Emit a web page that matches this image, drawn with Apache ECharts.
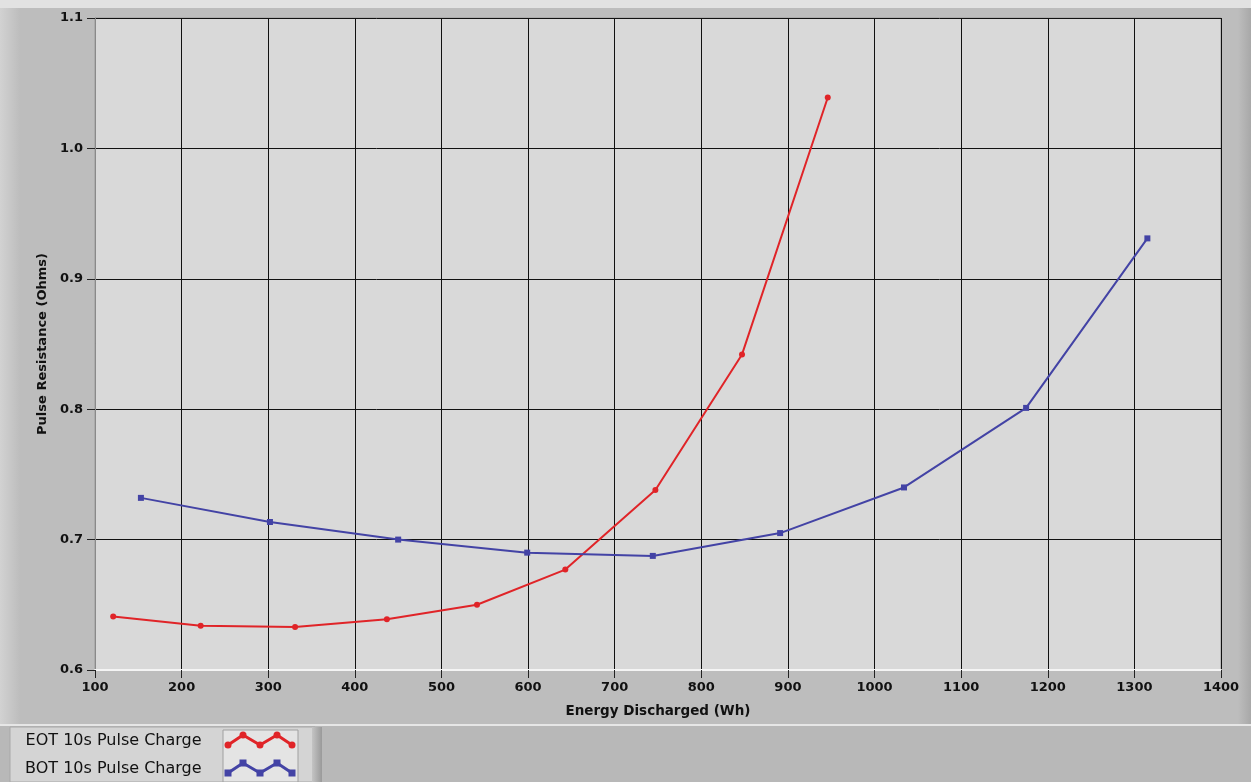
<!DOCTYPE html>
<html>
<head>
<meta charset="utf-8">
<script src="https://cdn.jsdelivr.net/npm/echarts@6/dist/echarts.min.js"></script>
<style>
  html, body { margin: 0; padding: 0; background: #bdbdbd; }
  #chart { width: 1251px; height: 782px; }
</style>
</head>
<body>
<div id="chart"></div>
<script>
// Pulse resistance vs. energy discharged, two 10 s pulse-charge tests
const eotEnergy = [121, 222, 331, 437, 541, 643, 747, 847, 946];
const eotResist = [0.641, 0.634, 0.633, 0.639, 0.650, 0.677, 0.738, 0.842, 1.039];
const botEnergy = [153, 302, 450, 599, 744, 891, 1034, 1175, 1315];
const botResist = [0.732, 0.7135, 0.700, 0.690, 0.6875, 0.705, 0.740, 0.801, 0.931];
const seriesNames = ['EOT 10s Pulse Charge', 'BOT 10s Pulse Charge'];
const seriesColors = ['#e02428', '#4343a5'];
const xTicks = { min: 100, max: 1400, step: 100 };
const yTicks = { min: 0.6, max: 1.1, step: 0.1 };

const pairs = (xs, ys) => xs.map((x, i) => [x, ys[i]]);

const chart = echarts.init(document.getElementById('chart'));

// zig-zag sample drawn inside the legend's swatch box
function swatch(top, color, symbol) {
  const pts = [[228, top + 10], [243, top], [260, top + 10], [277, top], [292, top + 10]];
  const parts = [{
    type: 'polyline', z: 20,
    shape: { points: pts },
    style: { stroke: color, lineWidth: 3, fill: null, lineJoin: 'round' }
  }];
  pts.forEach(p => {
    parts.push(symbol === 'circle'
      ? { type: 'circle', z: 21, shape: { cx: p[0], cy: p[1], r: 3.5 }, style: { fill: color } }
      : { type: 'rect', z: 21, shape: { x: p[0] - 3.5, y: p[1] - 3.5, width: 7, height: 7 }, style: { fill: color } });
  });
  return parts;
}

chart.setOption({
  backgroundColor: '#bdbdbd',
  animation: false,
  graphic: [
    { type: 'rect', z: -10, shape: { x: 0, y: 0, width: 1251, height: 8 }, style: { fill: '#e2e2e2' } },
    { type: 'rect', z: -10, shape: { x: 0, y: 8, width: 20, height: 717 },
      style: { fill: new echarts.graphic.LinearGradient(0, 0, 1, 0, [
        { offset: 0, color: '#d2d2d2' }, { offset: 1, color: '#bdbdbd' }]) } },
    { type: 'rect', z: -10, shape: { x: 1238, y: 8, width: 13, height: 717 },
      style: { fill: new echarts.graphic.LinearGradient(0, 0, 1, 0, [
        { offset: 0, color: '#bdbdbd' }, { offset: 1, color: '#a8a8a8' }]) } },
    { type: 'rect', z: -10, shape: { x: 0, y: 724, width: 1251, height: 58 }, style: { fill: '#b8b8b8' } },
    { type: 'line', z: -9, shape: { x1: 0, y1: 725, x2: 1251, y2: 725 }, style: { stroke: '#e6e6e6', lineWidth: 2 } },
    { type: 'rect', z: -8, shape: { x: 10, y: 727, width: 305, height: 55 },
      style: { fill: '#d4d4d4', stroke: '#a8a8a8', lineWidth: 1 } },
    { type: 'rect', z: -7, shape: { x: 223, y: 730, width: 75, height: 52 },
      style: { fill: '#e4e4e4', stroke: '#a0a0a0', lineWidth: 1 } },
    { type: 'rect', z: -8, shape: { x: 312, y: 727, width: 10, height: 55 },
      style: { fill: new echarts.graphic.LinearGradient(0, 0, 1, 0, [
        { offset: 0, color: '#c4c4c4' }, { offset: 1, color: '#9a9a9a' }]) } },
    ...swatch(735, seriesColors[0], 'circle'),
    ...swatch(763, seriesColors[1], 'rect')
  ],
  grid: {
    left: 95, right: 30, top: 18, bottom: 112,
    show: true, backgroundColor: '#d9d9d9', borderColor: '#9a9a9a', borderWidth: 1
  },
  legend: {
    data: seriesNames,
    orient: 'vertical',
    left: 25, top: 732,
    padding: 0,
    align: 'right',
    itemGap: 10,
    itemWidth: 75, itemHeight: 18,
    icon: 'rect',
    itemStyle: { opacity: 0 },
    lineStyle: { opacity: 0 },
    textStyle: { fontFamily: 'DejaVu Sans', fontSize: 16, color: '#111', width: 193 },
    selectedMode: false
  },
  xAxis: {
    type: 'value',
    min: xTicks.min, max: xTicks.max, interval: xTicks.step,
    name: 'Energy Discharged (Wh)',
    nameLocation: 'middle', nameGap: 34,
    nameTextStyle: { fontFamily: 'DejaVu Sans', fontWeight: 'bold', fontSize: 13.5, color: '#111' },
    axisLine: { show: true, lineStyle: { color: '#f4f4f4', width: 2 } },
    axisTick: { show: true, length: 8, inside: false, lineStyle: { color: '#222' } },
    axisLabel: { fontFamily: 'DejaVu Sans', fontWeight: 'bold', fontSize: 13, color: '#111', margin: 11,
      formatter: v => String(v) },
    splitLine: { show: true, lineStyle: { color: '#111', width: 1 } }
  },
  yAxis: {
    type: 'value',
    min: yTicks.min, max: yTicks.max, interval: yTicks.step,
    name: 'Pulse Resistance (Ohms)',
    nameLocation: 'middle', nameGap: 44,
    nameTextStyle: { fontFamily: 'DejaVu Sans', fontWeight: 'bold', fontSize: 13, color: '#111' },
    axisLine: { show: true, lineStyle: { color: '#8a8a8a', width: 1 } },
    axisTick: { show: true, length: 8, lineStyle: { color: '#222' } },
    axisLabel: { fontFamily: 'DejaVu Sans', fontWeight: 'bold', fontSize: 13, color: '#111', margin: 12,
      formatter: v => v.toFixed(1) },
    splitLine: { show: true, lineStyle: { color: '#111', width: 1 } }
  },
  series: [
    {
      name: seriesNames[0], type: 'line',
      data: pairs(eotEnergy, eotResist),
      symbol: 'circle', symbolSize: 6,
      lineStyle: { color: seriesColors[0], width: 2 },
      itemStyle: { color: seriesColors[0] }
    },
    {
      name: seriesNames[1], type: 'line',
      data: pairs(botEnergy, botResist),
      symbol: 'rect', symbolSize: 6,
      lineStyle: { color: seriesColors[1], width: 2 },
      itemStyle: { color: seriesColors[1] }
    }
  ]
});
</script>
</body>
</html>
